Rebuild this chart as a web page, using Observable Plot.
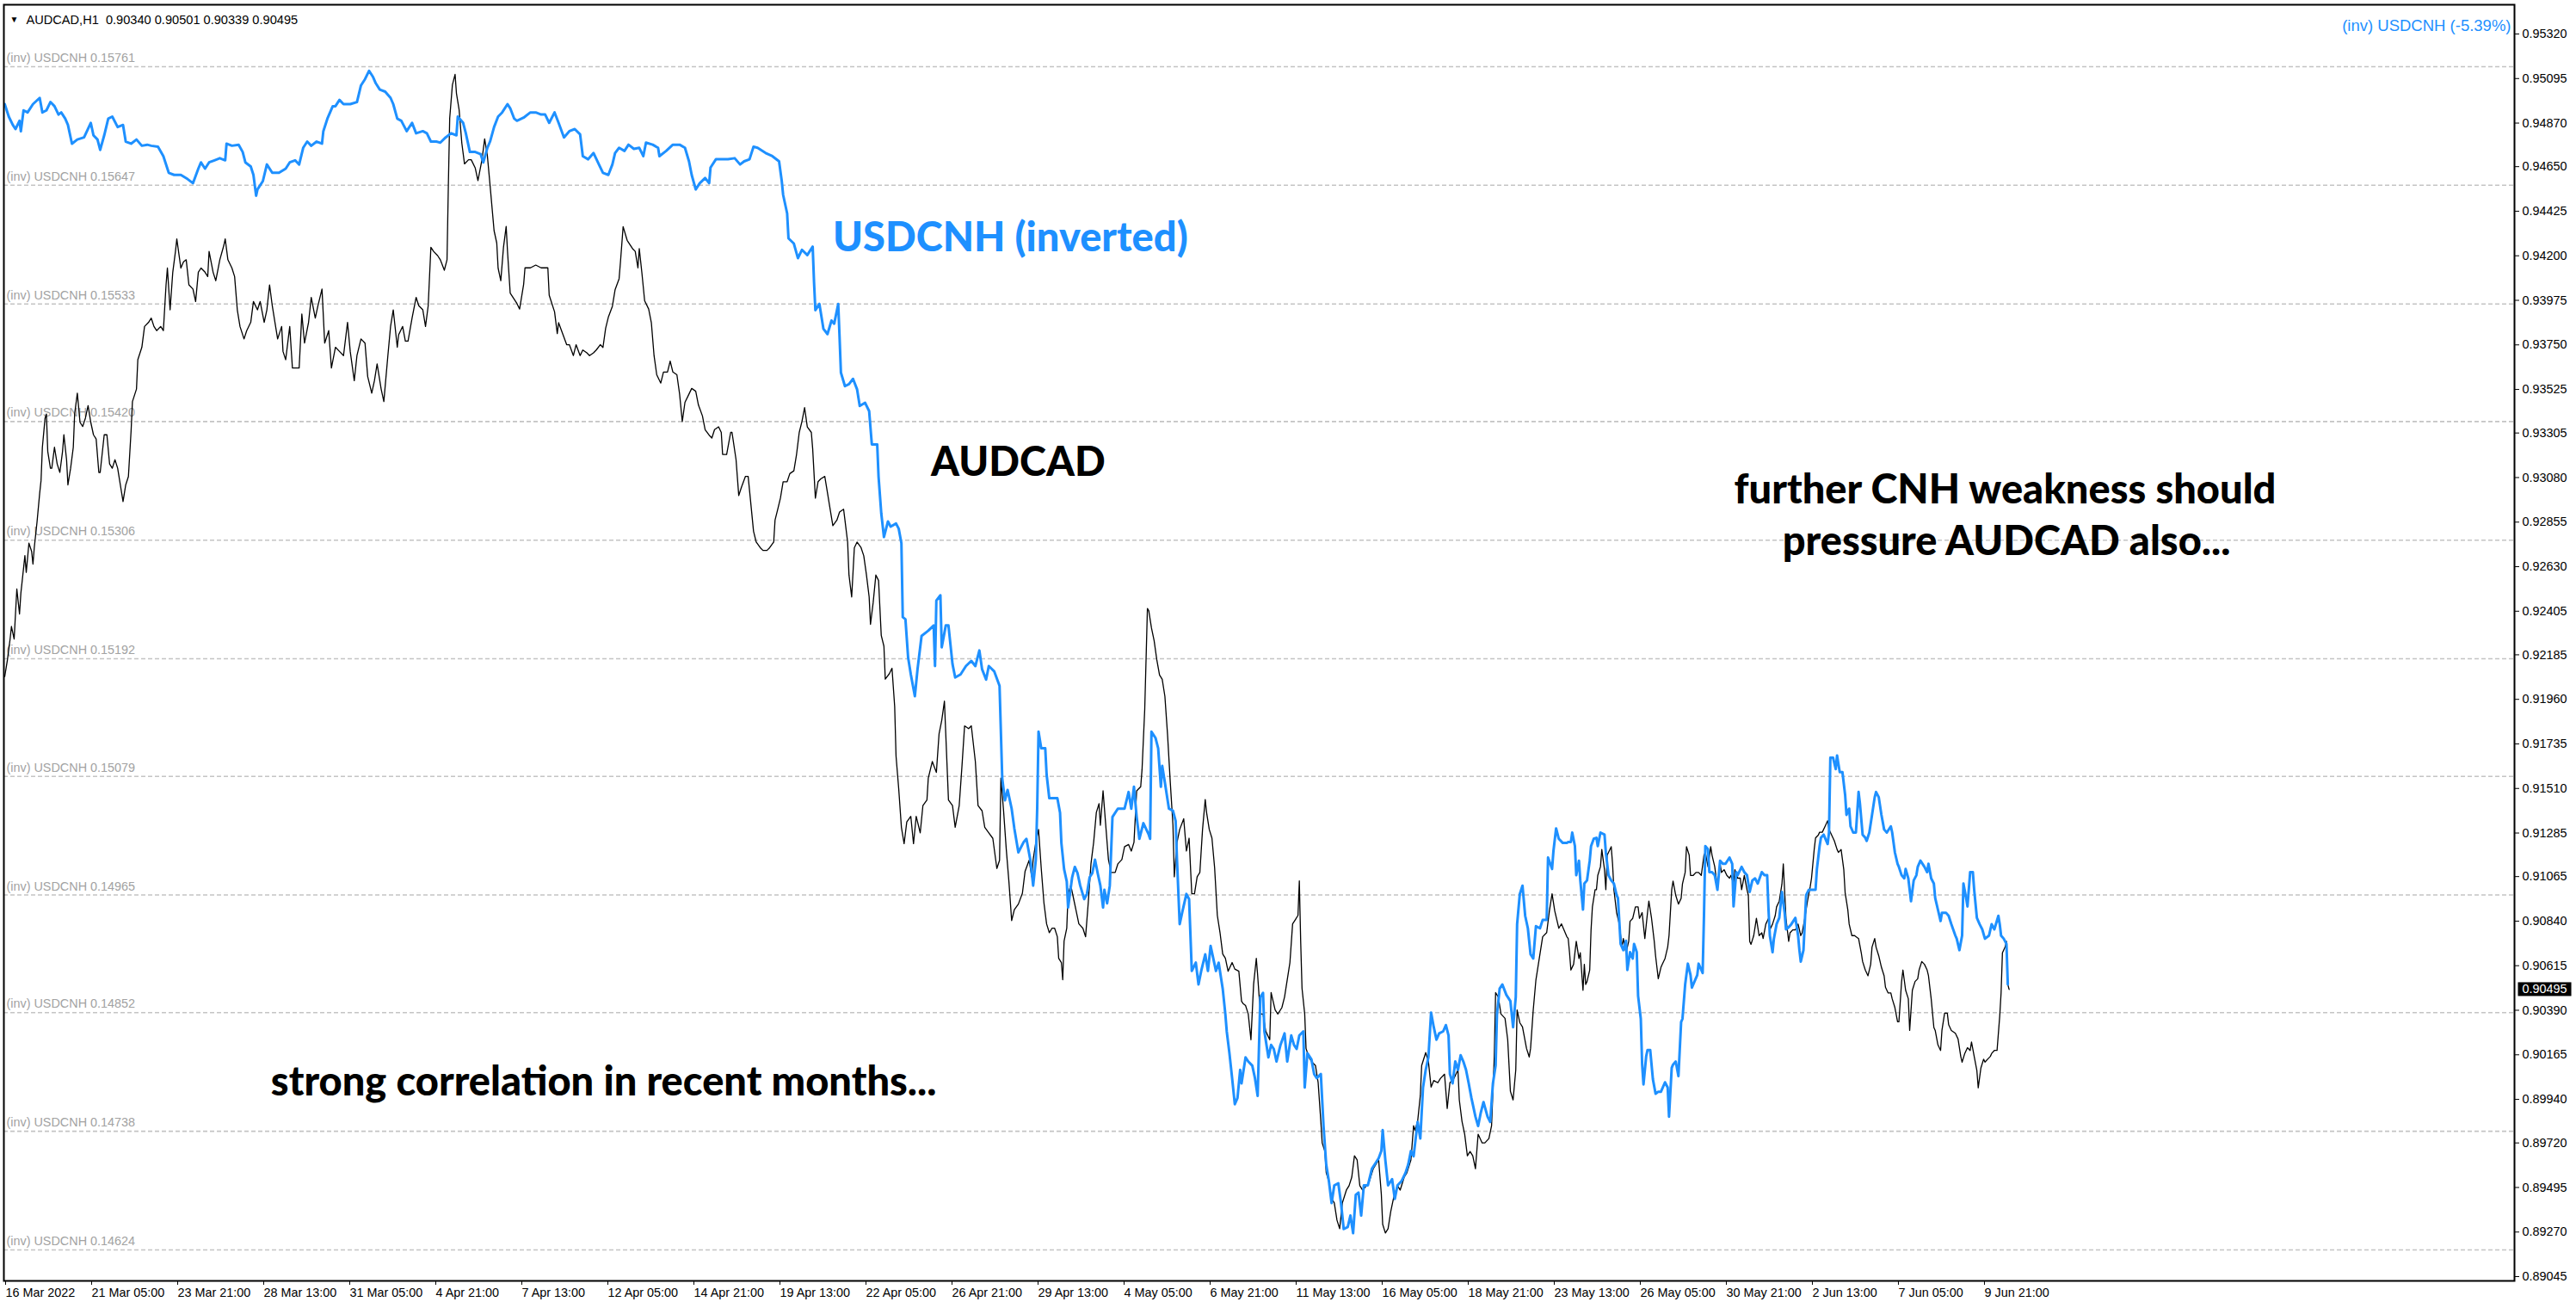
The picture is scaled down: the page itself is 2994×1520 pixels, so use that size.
<!DOCTYPE html>
<html><head><meta charset="utf-8">
<script src="https://cdn.jsdelivr.net/npm/d3@7"></script>
<script src="https://cdn.jsdelivr.net/npm/@observablehq/plot@0.6"></script>
<style>
html,body{margin:0;padding:0;background:#fff;}
#chart{position:relative;width:2994px;height:1520px;overflow:hidden;}
svg{display:block;}
</style></head><body><div id="chart"></div>
<script>
// ---- x axis: hourly bar index and its labels ----
const tickBars = [0,64,128,192,256,320,384,448,512,576,640,704,768,832,896,960,1024,1088,1152,1216,1280,1344,1408,1472];
const tickLabels = ["16 Mar 2022","21 Mar 05:00","23 Mar 21:00","28 Mar 13:00","31 Mar 05:00","4 Apr 21:00","7 Apr 13:00","12 Apr 05:00","14 Apr 21:00","19 Apr 13:00","22 Apr 05:00","26 Apr 21:00","29 Apr 13:00","4 May 05:00","6 May 21:00","11 May 13:00","16 May 05:00","18 May 21:00","23 May 13:00","26 May 05:00","30 May 21:00","2 Jun 13:00","7 Jun 05:00","9 Jun 21:00"];
const barDomain = [-0.64, 1866.9];

// ---- right price axis (AUDCAD) ----
const audTicks = [0.95320,0.95095,0.94870,0.94650,0.94425,0.94200,0.93975,0.93750,0.93525,0.93305,0.93080,0.92855,0.92630,0.92405,0.92185,0.91960,0.91735,0.91510,0.91285,0.91065,0.90840,0.90615,0.90390,0.90165,0.89940,0.89720,0.89495,0.89270,0.89045];
const audDomain = [0.890233, 0.954677];
const lastPrice = 0.90495;
const headerText = "AUDCAD,H1  0.90340 0.90501 0.90339 0.90495";

// ---- overlay (inverted USDCNH) grid levels & alignment with AUDCAD scale ----
const cnhGrid = [0.15761,0.15647,0.15533,0.15420,0.15306,0.15192,0.15079,0.14965,0.14852,0.14738,0.14624];
const cnhAlignCnh = [0.15761, 0.14624];
const cnhAlignAud = [0.95155, 0.89180];
const overlayText = "(inv) USDCNH (-5.39%)";

// ---- AUDCAD H1 closes [bar, close] ----
const audcad = [
[0,0.92075],[2,0.92159],[4,0.92265],[5,0.92328],[7,0.92265],[9,0.92517],[11,0.92391],[12,0.92496],[13,0.92559],[15,0.92686],[16,0.92601],[18,0.92749],[20,0.92707],[21,0.92643],[22,0.92728],[24,0.92854],[26,0.93001],[27,0.93064],[28,0.93233],[30,0.93380],[31,0.93401],[32,0.93212],[34,0.93127],[35,0.93127],[37,0.93233],[39,0.93149],[41,0.93106],[43,0.93212],[44,0.93296],[46,0.93170],[47,0.93043],[49,0.93127],[51,0.93233],[52,0.93401],[54,0.93506],[56,0.93359],[58,0.93338],[60,0.93380],[62,0.93443],[64,0.93359],[66,0.93296],[68,0.93275],[70,0.93106],[71,0.93106],[74,0.93296],[76,0.93296],[78,0.93149],[80,0.93127],[82,0.93170],[84,0.93127],[87,0.93001],[88,0.92959],[90,0.93043],[92,0.93085],[94,0.93317],[95,0.93464],[98,0.93527],[99,0.93675],[102,0.93738],[104,0.93843],[107,0.93864],[109,0.93885],[111,0.93843],[113,0.93822],[116,0.93843],[118,0.93822],[120,0.94053],[121,0.94138],[123,0.93927],[125,0.94117],[127,0.94222],[128,0.94285],[131,0.94138],[133,0.94169],[135,0.94180],[137,0.94053],[140,0.94032],[142,0.93969],[144,0.94117],[146,0.94138],[149,0.94117],[151,0.94095],[152,0.94222],[155,0.94117],[157,0.94074],[160,0.94180],[163,0.94253],[164,0.94285],[166,0.94180],[169,0.94138],[171,0.94095],[173,0.93927],[175,0.93843],[178,0.93780],[180,0.93822],[183,0.93864],[185,0.93969],[188,0.93927],[190,0.93969],[193,0.93864],[195,0.93927],[197,0.94053],[199,0.93948],[201,0.93864],[203,0.93780],[206,0.93843],[207,0.93717],[209,0.93675],[212,0.93843],[214,0.93633],[216,0.93633],[219,0.93633],[221,0.93906],[223,0.93759],[226,0.93864],[228,0.93990],[231,0.93885],[233,0.93948],[236,0.94032],[238,0.93759],[241,0.93822],[243,0.93633],[246,0.93738],[249,0.93717],[252,0.93696],[255,0.93864],[257,0.93717],[260,0.93569],[262,0.93696],[265,0.93780],[268,0.93759],[270,0.93590],[273,0.93506],[275,0.93569],[277,0.93654],[280,0.93527],[282,0.93464],[285,0.93696],[287,0.93843],[289,0.93927],[292,0.93738],[293,0.93801],[296,0.93843],[298,0.93769],[300,0.93769],[303,0.93885],[306,0.93990],[308,0.93948],[311,0.93927],[313,0.93843],[315,0.93948],[317,0.94243],[319,0.94222],[322,0.94201],[324,0.94180],[327,0.94127],[329,0.94180],[330,0.94558],[331,0.94895],[333,0.95063],[335,0.95116],[336,0.95021],[338,0.94937],[340,0.94769],[342,0.94664],[345,0.94685],[347,0.94685],[350,0.94643],[352,0.94580],[355,0.94685],[357,0.94790],[359,0.94706],[361,0.94558],[364,0.94327],[366,0.94264],[367,0.94138],[369,0.94074],[371,0.94243],[373,0.94348],[374,0.94222],[376,0.94011],
[381,0.93959],[383,0.93931],[386,0.94056],[387,0.94139],[391,0.94139],[395,0.94153],[399,0.94139],[402,0.94139],[404,0.94139],[405,0.94001],[407,0.93959],[409,0.93917],[411,0.93807],[412,0.93862],[415,0.93807],[418,0.93751],[420,0.93751],[423,0.93696],[425,0.93751],[428,0.93696],[430,0.93724],[433,0.93710],[435,0.93696],[438,0.93710],[440,0.93724],[443,0.93751],[445,0.93737],[447,0.93834],[449,0.93890],[452,0.93945],[454,0.94028],[457,0.94084],[458,0.94167],[460,0.94347],[463,0.94278],[467,0.94236],[469,0.94222],[471,0.94139],[472,0.94236],[474,0.94111],[476,0.93973],[479,0.93931],[481,0.93862],[483,0.93696],[485,0.93599],[488,0.93557],[490,0.93613],[493,0.93613],[495,0.93668],[497,0.93613],[500,0.93599],[502,0.93502],[504,0.93363],[506,0.93460],[509,0.93502],[511,0.93530],[514,0.93516],[516,0.93447],[519,0.93391],[521,0.93322],[524,0.93294],[526,0.93280],[528,0.93322],[531,0.93336],[533,0.93308],[534,0.93197],[537,0.93197],[540,0.93308],[541,0.93308],[544,0.93170],[546,0.92989],[548,0.93031],[551,0.93086],[553,0.93086],[555,0.92948],[557,0.92809],[559,0.92754],[562,0.92726],[564,0.92712],[567,0.92712],[569,0.92726],[572,0.92754],[573,0.92865],[575,0.92920],[577,0.92976],[579,0.93059],[582,0.93059],[584,0.93100],[587,0.93114],[589,0.93197],[591,0.93308],[593,0.93363],[595,0.93433],[597,0.93336],[600,0.93308],[601,0.93225],[603,0.92976],[605,0.93059],[607,0.93073],[610,0.93086],[612,0.93003],[614,0.92920],[616,0.92837],[619,0.92865],[621,0.92906],[624,0.92920],[625,0.92865],[627,0.92754],[628,0.92588],[630,0.92477],[632,0.92726],[634,0.92754],[637,0.92726],[639,0.92685],[641,0.92588],[643,0.92477],[644,0.92339],[646,0.92449],[648,0.92588],[650,0.92560],[652,0.92283],[654,0.92228],[655,0.92062],[658,0.92089],[660,0.92117],[662,0.91923],[663,0.91674],[665,0.91508],[667,0.91314],[669,0.91231],[671,0.91341],[674,0.91369],[676,0.91231],[678,0.91369],[681,0.91286],[683,0.91424],[686,0.91452],[687,0.91563],[690,0.91646],[693,0.91591],[695,0.91785],[697,0.91854],[699,0.91951],[700,0.91785],[702,0.91452],[705,0.91424],[707,0.91314],[710,0.91424],[712,0.91618],[714,0.91826],[717,0.91812],[719,0.91826],[722,0.91646],[724,0.91424],[727,0.91397],[729,0.91314],[732,0.91286],[735,0.91258],[738,0.91106],[740,0.91147],[741,0.91563],[743,0.91397],[745,0.91203],[747,0.91037],[749,0.90843],[751,0.90898],[754,0.90926],[757,0.90981],[759,0.91092],[762,0.91147],[764,0.91064],
[765,0.91151],[767,0.91238],[769,0.91303],[771,0.91108],[773,0.90934],[775,0.90826],[777,0.90782],[779,0.90804],[781,0.90804],[783,0.90761],[784,0.90652],[786,0.90631],[787,0.90544],[788,0.90739],[790,0.90804],[791,0.90978],[793,0.91021],[795,0.90956],[797,0.90891],[799,0.90826],[802,0.90804],[804,0.90761],[806,0.90934],[808,0.91129],[810,0.91238],[812,0.91389],[814,0.91433],[815,0.91324],[817,0.91498],[819,0.91324],[821,0.91151],[823,0.91086],[826,0.91086],[828,0.91129],[831,0.91151],[833,0.91216],[836,0.91227],[838,0.91194],[840,0.91238],[842,0.91498],[845,0.91519],[846,0.91606],[848,0.91910],[850,0.92419],[851,0.92408],[853,0.92321],[855,0.92256],[857,0.92159],[859,0.92083],[861,0.92061],[863,0.91975],[865,0.91779],[867,0.91541],[869,0.91324],[870,0.91064],[872,0.91238],[874,0.91303],[877,0.91357],[879,0.91194],[881,0.91259],[883,0.90978],[885,0.90978],[887,0.91064],[889,0.91086],[891,0.91303],[893,0.91454],[894,0.91389],[896,0.91303],[898,0.91259],[900,0.91108],[902,0.90869],[904,0.90782],[906,0.90674],[908,0.90652],[910,0.90587],[913,0.90631],[915,0.90598],[918,0.90587],[920,0.90436],[921,0.90425],[923,0.90414],[925,0.90371],[927,0.90241],[929,0.90522],[931,0.90652],[932,0.90566],[934,0.90371],[936,0.90371],[938,0.90284],[941,0.90241],[942,0.90479],[945,0.90392],[947,0.90371],[950,0.90403],[952,0.90457],[954,0.90544],[956,0.90631],[958,0.90826],[960,0.90847],[962,0.90869],[963,0.91043],[964,0.90739],[965,0.90501],[967,0.90371],[968,0.90197],[970,0.90154],[972,0.90132],[975,0.90111],[977,0.90024],[979,0.89829],[980,0.89720],[982,0.89677],[983,0.89569],[985,0.89525],[987,0.89439],[989,0.89417],[991,0.89330],[993,0.89287],[995,0.89417],[998,0.89482],[1000,0.89504],[1002,0.89547],[1004,0.89655],[1006,0.89634],[1008,0.89504],[1010,0.89482],[1013,0.89504],[1015,0.89525],[1018,0.89590],[1020,0.89612],[1022,0.89634],[1024,0.89460],[1025,0.89309],[1027,0.89265],[1029,0.89287],[1031,0.89374],[1033,0.89439],[1036,0.89504],[1038,0.89482],[1041,0.89547],[1043,0.89569],[1046,0.89634],[1048,0.89807],[1049,0.89785],[1051,0.89829],[1053,0.89959],[1054,0.90111],[1057,0.90176],[1059,0.90132],[1061,0.90002],[1063,0.90035],[1066,0.90024],[1068,0.90046],[1071,0.90067],[1072,0.89981],[1073,0.89894],[1075,0.90024],[1078,0.90046],[1081,0.90089],[1082,0.89937],[1084,0.89829],[1086,0.89764],[1088,0.89655],[1090,0.89677],[1092,0.89655],[1094,0.89590],[1096,0.89764],[1099,0.89720],[1101,0.89720],[1104,0.89742],[1106,0.89807],[1108,0.90154],[1109,0.90479],[1111,0.90457],[1113,0.90371],[1116,0.90349],[1118,0.90241],[1120,0.89981],[1122,0.89937],[1124,0.90089],[1125,0.90392],[1127,0.90327],[1129,0.90306],[1132,0.90197],[1134,0.90154],[1135,0.90197],[1137,0.90392],[1139,0.90544],[1142,0.90674],[1144,0.90761],[1147,0.90782],[1149,0.90891],[1151,0.90978],[1153,0.90891],[1156,0.90804],[1158,0.90826],[1162,0.90761],
[1163,0.90752],[1164,0.90680],[1165,0.90593],[1167,0.90622],[1169,0.90738],[1171,0.90651],[1172,0.90680],[1174,0.90491],[1175,0.90622],[1176,0.90520],[1177,0.90535],[1179,0.90593],[1180,0.90796],[1181,0.90912],[1183,0.90999],[1184,0.90999],[1185,0.91071],[1187,0.91115],[1188,0.91202],[1190,0.91100],[1191,0.90999],[1192,0.91173],[1193,0.91187],[1195,0.91216],[1196,0.91129],[1197,0.90999],[1199,0.90883],[1201,0.90825],[1203,0.90709],[1204,0.90752],[1206,0.90680],[1208,0.90738],[1209,0.90839],[1211,0.90854],[1213,0.90912],[1215,0.90912],[1216,0.90854],[1218,0.90883],[1220,0.90752],[1222,0.90883],[1223,0.90941],[1225,0.90854],[1227,0.90738],[1228,0.90665],[1230,0.90549],[1232,0.90607],[1233,0.90622],[1235,0.90651],[1237,0.90709],[1238,0.90767],[1240,0.90999],[1241,0.91042],[1243,0.90970],[1245,0.90926],[1247,0.90955],[1248,0.91028],[1250,0.91086],[1251,0.91216],[1253,0.91173],[1254,0.91071],[1256,0.91071],[1258,0.91086],[1260,0.91086],[1262,0.91071],[1264,0.91173],[1265,0.91187],[1267,0.91115],[1269,0.91216],[1270,0.91173],[1272,0.91115],[1274,0.91013],[1276,0.91129],[1277,0.91086],[1279,0.91100],[1281,0.91071],[1283,0.91057],[1284,0.91071],[1286,0.91028],[1287,0.91100],[1289,0.91057],[1291,0.91057],[1292,0.90999],[1294,0.91071],[1296,0.90999],[1297,0.90970],[1298,0.90738],[1299,0.90723],[1301,0.90767],[1302,0.90810],[1303,0.90854],[1305,0.90767],[1307,0.90781],[1308,0.90752],[1310,0.90825],[1312,0.90854],[1313,0.90796],[1315,0.90825],[1317,0.90868],[1318,0.90912],[1320,0.90941],[1322,0.91028],[1323,0.91129],[1325,0.90854],[1327,0.90738],[1328,0.90781],[1330,0.90796],[1332,0.90796],[1334,0.90825],[1336,0.90767],[1337,0.90781],[1339,0.90854],[1341,0.90941],[1343,0.91013],[1344,0.91057],[1346,0.91202],[1347,0.91260],[1349,0.91274],[1350,0.91289],[1352,0.91289],[1354,0.91318],[1356,0.91347],[1357,0.91303],[1359,0.91274],[1361,0.91245],[1363,0.91202],[1364,0.91187],[1366,0.91202],[1368,0.91100],[1369,0.90984],[1371,0.90897],[1372,0.90825],[1374,0.90767],[1376,0.90767],[1379,0.90752],[1381,0.90680],[1382,0.90636],[1384,0.90593],[1386,0.90564],[1388,0.90622],[1389,0.90709],[1391,0.90752],[1392,0.90709],[1394,0.90665],[1396,0.90607],[1398,0.90564],[1399,0.90506],[1401,0.90477],[1403,0.90477],[1404,0.90448],[1406,0.90404],[1408,0.90332],[1409,0.90332],[1411,0.90535],[1412,0.90593],[1414,0.90491],[1416,0.90448],[1417,0.90288],[1419,0.90491],[1421,0.90535],[1423,0.90549],[1424,0.90593],[1426,0.90636],[1428,0.90622],[1430,0.90593],[1431,0.90564],[1433,0.90448],[1435,0.90303],[1436,0.90288],[1438,0.90216],[1440,0.90187],[1441,0.90288],[1443,0.90375],[1445,0.90375],[1446,0.90317],[1448,0.90288],[1451,0.90274],[1453,0.90245],[1455,0.90157],[1456,0.90128],[1458,0.90172],[1460,0.90201],[1462,0.90187],[1463,0.90230],[1465,0.90157],[1467,0.90085],[1468,0.89998],[1470,0.90099],[1472,0.90143],[1473,0.90128],[1475,0.90143],[1477,0.90157],[1478,0.90172],[1480,0.90187],[1482,0.90187],[1484,0.90361],[1485,0.90477],[1486,0.90680],[1488,0.90709],[1489,0.90738],[1490,0.90520],[1491,0.90495]
];

// ---- inverted USDCNH (1 / USDCNH) [bar, value] ----
const usdcnhInv = [
[0,0.15725],[3,0.15713],[6,0.15705],[8,0.15701],[11,0.15709],[12,0.15699],[14,0.15719],[17,0.15717],[21,0.15725],[26,0.15731],[28,0.15717],[31,0.15719],[34,0.15727],[37,0.15723],[40,0.15715],[42,0.15717],[45,0.15711],[47,0.15705],[50,0.15687],[54,0.15691],[59,0.15693],[64,0.15707],[66,0.15695],[69,0.15691],[71,0.15681],[74,0.15695],[77,0.15711],[80,0.15713],[84,0.15703],[88,0.15705],[90,0.15689],[94,0.15687],[98,0.15691],[102,0.15685],[106,0.15686],[109,0.15685],[114,0.15684],[118,0.15675],[122,0.15659],[126,0.15657],[131,0.15657],[136,0.15653],[140,0.15649],[144,0.15663],[146,0.15669],[149,0.15663],[152,0.15669],[156,0.15671],[160,0.15673],[164,0.15671],[165,0.15687],[169,0.15685],[174,0.15686],[177,0.15679],[179,0.15669],[183,0.15665],[185,0.15657],[187,0.15637],[188,0.15643],[192,0.15651],[195,0.15667],[199,0.15659],[204,0.15659],[209,0.15663],[212,0.15669],[216,0.15671],[219,0.15667],[222,0.15683],[225,0.15689],[228,0.15685],[232,0.15689],[236,0.15687],[237,0.15699],[240,0.15711],[244,0.15723],[246,0.15723],[249,0.15729],[252,0.15725],[257,0.15725],[262,0.15727],[265,0.15743],[268,0.15749],[271,0.15757],[274,0.15751],[276,0.15745],[279,0.15739],[283,0.15737],[287,0.15731],[289,0.15725],[292,0.15711],[295,0.15709],[299,0.15699],[303,0.15707],[306,0.15697],[311,0.15699],[314,0.15697],[317,0.15689],[321,0.15689],[324,0.15688],[328,0.15693],[332,0.15697],[336,0.15695],[337,0.15713],[341,0.15707],[343,0.15697],[346,0.15679],[350,0.15679],[354,0.15677],[356,0.15669],[359,0.15683],[361,0.15689],[364,0.15703],[367,0.15713],[370,0.15717],[374,0.15725],[376,0.15721],[379,0.15711],
[381,0.15709],[386,0.15712],[391,0.15717],[395,0.15717],[399,0.15715],[402,0.15715],[405,0.15707],[409,0.15717],[412,0.15707],[416,0.15693],[420,0.15699],[424,0.15701],[428,0.15696],[430,0.15675],[434,0.15672],[438,0.15678],[442,0.15667],[445,0.15659],[449,0.15657],[452,0.15667],[454,0.15678],[457,0.15683],[461,0.15680],[464,0.15686],[468,0.15682],[472,0.15683],[475,0.15675],[477,0.15688],[482,0.15686],[486,0.15683],[487,0.15675],[492,0.15680],[497,0.15686],[502,0.15686],[506,0.15683],[509,0.15670],[511,0.15657],[514,0.15643],[517,0.15649],[521,0.15654],[524,0.15649],[525,0.15664],[529,0.15672],[533,0.15672],[538,0.15672],[543,0.15673],[547,0.15667],[550,0.15670],[554,0.15672],[557,0.15684],[560,0.15683],[566,0.15678],[571,0.15675],[576,0.15670],[578,0.15651],[579,0.15638],[582,0.15620],[583,0.15596],[587,0.15591],[590,0.15577],[593,0.15585],[597,0.15580],[601,0.15588],[602,0.15554],[603,0.15527],[606,0.15533],[609,0.15509],[612,0.15504],[615,0.15517],[617,0.15514],[620,0.15533],[621,0.15501],[622,0.15467],[625,0.15454],[628,0.15456],[631,0.15461],[634,0.15451],[636,0.15435],[640,0.15438],[643,0.15430],[645,0.15398],[649,0.15398],[650,0.15367],[652,0.15332],[654,0.15309],[657,0.15324],[659,0.15319],[663,0.15322],[665,0.15317],[667,0.15303],[668,0.15232],[670,0.15230],[672,0.15193],[674,0.15177],[677,0.15156],[679,0.15182],[682,0.15214],[687,0.15219],[691,0.15224],[692,0.15185],[693,0.15248],[696,0.15253],[697,0.15203],[700,0.15224],[702,0.15224],[705,0.15187],[707,0.15174],[711,0.15177],[715,0.15185],[719,0.15190],[722,0.15185],[725,0.15200],[727,0.15182],[730,0.15172],[732,0.15185],[736,0.15180],[740,0.15166],[742,0.15077],[744,0.15056],[746,0.15066],[749,0.15048],[751,0.15029],[754,0.15006],[758,0.15016],[760,0.15019],[763,0.14998],
[765,0.14974],[767,0.14999],[768,0.15048],[769,0.15122],[771,0.15106],[774,0.15106],[775,0.15081],[777,0.15058],[780,0.15058],[783,0.15058],[785,0.15044],[786,0.15015],[788,0.14990],[790,0.14978],[791,0.14953],[794,0.14982],[796,0.14992],[798,0.14986],[800,0.14974],[803,0.14961],[805,0.14966],[807,0.14982],[809,0.14986],[811,0.14999],[813,0.14986],[815,0.14974],[817,0.14953],[818,0.14970],[820,0.14957],[822,0.14974],[824,0.15040],[828,0.15048],[831,0.15048],[833,0.15048],[836,0.15064],[838,0.15048],[840,0.15069],[842,0.15040],[844,0.15019],[847,0.15034],[851,0.15023],[852,0.15019],[853,0.15122],[856,0.15116],[858,0.15106],[860,0.15069],[861,0.15089],[863,0.15073],[866,0.15048],[869,0.15046],[871,0.15036],[872,0.14999],[874,0.14937],[876,0.14949],[879,0.14966],[881,0.14961],[883,0.14892],[886,0.14900],[888,0.14879],[890,0.14892],[893,0.14908],[895,0.14892],[897,0.14916],[899,0.14904],[901,0.14892],[903,0.14900],[906,0.14875],[908,0.14850],[909,0.14834],[911,0.14813],[913,0.14789],[915,0.14764],[917,0.14770],[919,0.14797],[920,0.14784],[923,0.14809],[925,0.14805],[928,0.14801],[930,0.14789],[932,0.14772],[934,0.14867],[936,0.14871],[937,0.14834],[940,0.14809],[942,0.14821],[944,0.14817],[946,0.14805],[949,0.14821],[952,0.14832],[954,0.14805],[957,0.14830],[959,0.14821],[961,0.14817],[963,0.14830],[966,0.14834],[967,0.14780],[969,0.14813],[972,0.14807],[974,0.14793],[976,0.14789],[979,0.14793],[981,0.14743],[983,0.14706],[985,0.14690],[987,0.14669],[989,0.14686],[992,0.14688],[994,0.14669],[996,0.14644],[999,0.14646],[1001,0.14657],[1003,0.14640],[1005,0.14677],[1007,0.14679],[1009,0.14657],[1011,0.14686],[1014,0.14686],[1017,0.14702],[1019,0.14706],[1022,0.14712],[1024,0.14719],[1025,0.14739],[1027,0.14710],[1029,0.14686],[1032,0.14692],[1034,0.14673],[1036,0.14686],[1039,0.14690],[1042,0.14698],[1044,0.14706],[1046,0.14719],[1048,0.14714],[1051,0.14747],[1053,0.14731],[1055,0.14780],[1057,0.14797],[1059,0.14809],[1061,0.14852],[1063,0.14838],[1065,0.14826],[1067,0.14832],[1070,0.14834],[1072,0.14840],[1074,0.14830],[1075,0.14793],[1077,0.14784],[1079,0.14805],[1081,0.14797],[1083,0.14811],[1085,0.14805],[1087,0.14797],[1089,0.14784],[1091,0.14770],[1094,0.14752],[1096,0.14743],[1098,0.14756],[1100,0.14766],[1103,0.14752],[1105,0.14747],[1107,0.14784],[1109,0.14801],[1110,0.14850],[1112,0.14875],[1114,0.14879],[1117,0.14869],[1120,0.14863],[1122,0.14838],[1124,0.14867],[1125,0.14937],[1127,0.14966],[1129,0.14974],[1131,0.14945],[1133,0.14933],[1135,0.14908],[1137,0.14904],[1139,0.14935],[1142,0.14933],[1144,0.14941],[1147,0.14941],[1148,0.15001],[1151,0.14990],[1152,0.15007],[1154,0.15029],[1156,0.15019],[1159,0.15015],[1162,0.15015],
[1163,0.15016],[1165,0.15016],[1166,0.15025],[1168,0.15012],[1169,0.14984],[1171,0.14998],[1172,0.14979],[1174,0.14951],[1175,0.14976],[1177,0.14979],[1179,0.14998],[1180,0.15012],[1182,0.15019],[1184,0.15020],[1185,0.15012],[1187,0.15025],[1190,0.15023],[1191,0.15006],[1193,0.14984],[1195,0.14979],[1197,0.14976],[1199,0.14965],[1200,0.14962],[1202,0.14918],[1204,0.14912],[1206,0.14921],[1207,0.14893],[1209,0.14910],[1211,0.14904],[1212,0.14918],[1214,0.14910],[1215,0.14868],[1217,0.14846],[1218,0.14802],[1219,0.14783],[1221,0.14810],[1222,0.14816],[1224,0.14816],[1226,0.14788],[1228,0.14774],[1230,0.14776],[1232,0.14776],[1235,0.14785],[1237,0.14780],[1238,0.14752],[1240,0.14799],[1241,0.14802],[1243,0.14805],[1245,0.14791],[1247,0.14843],[1248,0.14846],[1250,0.14879],[1252,0.14899],[1254,0.14888],[1255,0.14876],[1257,0.14882],[1259,0.14888],[1260,0.14899],[1263,0.14890],[1264,0.14945],[1265,0.15012],[1267,0.15009],[1268,0.14987],[1270,0.14987],[1272,0.14984],[1274,0.14970],[1276,0.14998],[1278,0.14995],[1280,0.14995],[1283,0.15001],[1285,0.14995],[1286,0.14954],[1288,0.14987],[1289,0.14984],[1292,0.14992],[1294,0.14987],[1296,0.14984],[1298,0.14968],[1300,0.14979],[1302,0.14981],[1304,0.14976],[1307,0.14987],[1309,0.14984],[1311,0.14984],[1312,0.14951],[1313,0.14926],[1315,0.14910],[1316,0.14923],[1318,0.14937],[1320,0.14943],[1322,0.14968],[1324,0.14948],[1325,0.14932],[1327,0.14934],[1329,0.14937],[1332,0.14943],[1334,0.14926],[1335,0.14912],[1336,0.14901],[1338,0.14912],[1340,0.14965],[1342,0.14970],[1344,0.14970],[1347,0.14970],[1348,0.14990],[1350,0.15012],[1351,0.15020],[1353,0.15023],[1356,0.15014],[1357,0.15025],[1358,0.15097],[1360,0.15097],[1362,0.15086],[1363,0.15099],[1365,0.15083],[1367,0.15083],[1369,0.15061],[1370,0.15042],[1372,0.15048],[1373,0.15031],[1375,0.15025],[1377,0.15025],[1379,0.15064],[1380,0.15053],[1382,0.15023],[1384,0.15020],[1385,0.15017],[1387,0.15025],[1389,0.15042],[1391,0.15059],[1392,0.15064],[1394,0.15059],[1396,0.15042],[1398,0.15028],[1400,0.15025],[1403,0.15031],[1404,0.15025],[1406,0.15006],[1408,0.14995],[1409,0.14992],[1411,0.14984],[1413,0.14981],[1414,0.14990],[1416,0.14981],[1418,0.14959],[1420,0.14979],[1422,0.14984],[1423,0.14992],[1425,0.14998],[1428,0.14992],[1430,0.14987],[1431,0.14995],[1433,0.14981],[1435,0.14976],[1436,0.14962],[1438,0.14951],[1440,0.14940],[1441,0.14948],[1444,0.14948],[1446,0.14945],[1448,0.14937],[1451,0.14926],[1452,0.14923],[1454,0.14912],[1456,0.14926],[1457,0.14976],[1459,0.14962],[1460,0.14954],[1462,0.14987],[1464,0.14987],[1465,0.14970],[1467,0.14943],[1469,0.14937],[1471,0.14932],[1473,0.14923],[1476,0.14926],[1478,0.14937],[1480,0.14932],[1483,0.14945],[1484,0.14937],[1485,0.14926],[1487,0.14923],[1489,0.14918],[1490,0.14879]
];

// ---- annotations (anchored in bar / AUDCAD price space) ----
const noteBlue = [{text: "USDCNH (inverted)", bar: 616, value: 0.94290}];
const noteLeft = [
  {text: "AUDCAD", bar: 689, value: 0.93152},
  {text: "strong correlation in recent months...", bar: 198, value: 0.90023}
];
const noteCenter = [
  {text: "further CNH weakness should", bar: 1488, value: 0.93013},
  {text: "pressure AUDCAD also...", bar: 1489, value: 0.92756}
];

// ---- build ----
const overlay = d3.scaleLinear().domain(cnhAlignCnh).range(cnhAlignAud);
const labelByBar = new Map(tickBars.map((b, i) => [b, tickLabels[i]]));
const audRows = audcad.map(([bar, close]) => ({bar, close}));
const cnhRows = usdcnhInv.map(([bar, inv]) => ({bar, inv}));

const smallFont = "'Liberation Sans', Arial, sans-serif";
const noteFont = "Lato, 'Open Sans', sans-serif";

const plot = Plot.plot({
  width: 2994,
  height: 1520,
  marginTop: 5,
  marginBottom: 32,
  marginLeft: 4,
  marginRight: 72,
  style: {fontFamily: smallFont, fontSize: "14.4px", background: "white", color: "black"},
  x: {domain: barDomain, axis: null},
  y: {domain: audDomain, axis: null},
  marks: [
    Plot.ruleY(cnhGrid, {y: d => overlay(d), stroke: "#c4c4c4", strokeWidth: 1.6, strokeDasharray: "5,3"}),
    Plot.text(cnhGrid, {y: d => overlay(d), text: d => `(inv) USDCNH ${d.toFixed(5)}`, frameAnchor: "left", textAnchor: "start", dx: 3, dy: -10, fill: "#a2a2a2", fontSize: 14.4}),
    Plot.line(audRows, {x: "bar", y: "close", stroke: "#000", strokeWidth: 1.3, curve: "linear"}),
    Plot.line(cnhRows, {x: "bar", y: d => overlay(d.inv), stroke: "#1e90ff", strokeWidth: 3, curve: "linear"}),
    Plot.frame({stroke: "#000", strokeWidth: 2}),
    Plot.axisY(audTicks, {anchor: "right", label: null, tickSize: 5, tickPadding: 4, tickFormat: d => d.toFixed(5), fontSize: 14.4, stroke: "#000", fill: "#000"}),
    Plot.axisX(tickBars, {anchor: "bottom", label: null, tickSize: 5, tickPadding: 3, tickFormat: d => labelByBar.get(d), textAnchor: "start", dx: 1, fontSize: 14.4, stroke: "#000", fill: "#000"}),
    Plot.text([lastPrice], {y: d => d, text: d => d.toFixed(5), frameAnchor: "right", textAnchor: "start", dx: 9, fill: "white", fontSize: 14.4, className: "price-tag"}),
    Plot.text(["\u25BC"], {text: d => d, frameAnchor: "top-left", textAnchor: "start", dx: 7, dy: 13, fontSize: 10, fill: "#000"}),
    Plot.text([headerText], {text: d => d, frameAnchor: "top-left", textAnchor: "start", dx: 26, dy: 12, fontSize: 14.6, fill: "#000"}),
    Plot.text([overlayText], {text: d => d, frameAnchor: "top-right", textAnchor: "end", dx: -4, dy: 17, fontSize: 18.5, fill: "#1e90ff"}),
    Plot.text(noteBlue, {x: "bar", y: "value", text: "text", textAnchor: "start", fontFamily: noteFont, fontWeight: 900, fontSize: 47, fill: "#1e90ff"}),
    Plot.text(noteLeft, {x: "bar", y: "value", text: "text", textAnchor: "start", fontFamily: noteFont, fontWeight: 900, fontSize: 47, fill: "#000"}),
    Plot.text(noteCenter, {x: "bar", y: "value", text: "text", textAnchor: "middle", fontFamily: noteFont, fontWeight: 900, fontSize: 47, fill: "#000"})
  ]
});

document.getElementById("chart").append(plot);

// black background box behind the current-price tag
d3.select(plot).selectAll("g.price-tag text").each(function() {
  const b = this.getBBox();
  const r = document.createElementNS("http://www.w3.org/2000/svg", "rect");
  r.setAttribute("x", b.x - 5);
  r.setAttribute("y", b.y);
  r.setAttribute("width", b.width + 10);
  r.setAttribute("height", b.height);
  r.setAttribute("fill", "#000");
  const t = this.getAttribute("transform");
  if (t) r.setAttribute("transform", t);
  this.parentNode.insertBefore(r, this);
});
</script>
</body></html>
